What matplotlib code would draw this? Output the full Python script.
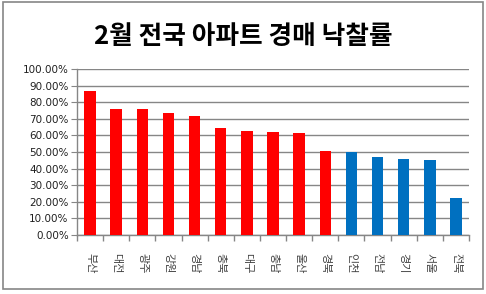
import matplotlib
matplotlib.use("Agg")
import matplotlib.pyplot as plt
from matplotlib.patches import Rectangle
from matplotlib.ticker import FuncFormatter, FixedLocator

plt.rcParams['font.family'] = ['Noto Sans CJK KR', 'DejaVu Sans']

regions = ['부산', '대전', '광주', '강원', '경남', '충북', '대구', '충남', '울산', '경북',
           '인천', '전남', '경기', '서울', '전북']
rates = [86.9, 76.1, 76.1, 73.6, 71.8, 64.6, 62.9, 62.2, 61.6, 50.9,
         49.7, 47.1, 45.9, 45.3, 22.3]
colors = ['#FF0000'] * 10 + ['#0070C0'] * 5
title = '2월 전국 아파트 경매 낙찰률'

W, H = 486, 294
fig = plt.figure(figsize=(W / 100, H / 100), dpi=100)
ax = fig.add_axes([77 / W, 1 - 235 / H, (469 - 77) / W, (235 - 69) / H])

x = list(range(len(regions)))
ax.bar(x, rates, width=0.44, color=colors, zorder=3)
ax.set_xlim(-0.5, len(regions) - 0.5)
ax.set_ylim(0, 100)
ax.set_yticks(range(0, 101, 10))
ax.yaxis.set_major_formatter(FuncFormatter(lambda v, p: f'{v:.2f}%'))
ax.grid(axis='y', color='#868686', linewidth=1, zorder=0)

ax.set_xticks(x)
ax.set_xticklabels(regions, rotation=-90, fontsize=8, color='#404040')
ax.tick_params(axis='x', which='major', length=0, pad=13)
ax.xaxis.set_minor_locator(FixedLocator([i - 0.5 for i in range(len(regions) + 1)]))
ax.tick_params(axis='x', which='minor', length=4, color='#868686', width=1)
ax.tick_params(axis='y', length=4, color='#868686', labelsize=7.5, labelcolor='#202020', pad=2)
for lbl in ax.get_yticklabels():
    lbl.set_family(['DejaVu Sans'])

for s in ['top', 'right']:
    ax.spines[s].set_visible(False)
for s in ['left', 'bottom']:
    ax.spines[s].set_color('#868686')
    ax.spines[s].set_linewidth(1)

fig.text(0.5, 1 - 37 / H, title, ha='center', va='center', fontsize=18.5, fontweight='bold', color='black')

fig.patches.append(Rectangle((3 / W, 1 - 289 / H), 480 / W, 287 / H, transform=fig.transFigure,
                             fill=False, edgecolor='#868686', linewidth=1.2))

fig.savefig('out.png', dpi=100)
